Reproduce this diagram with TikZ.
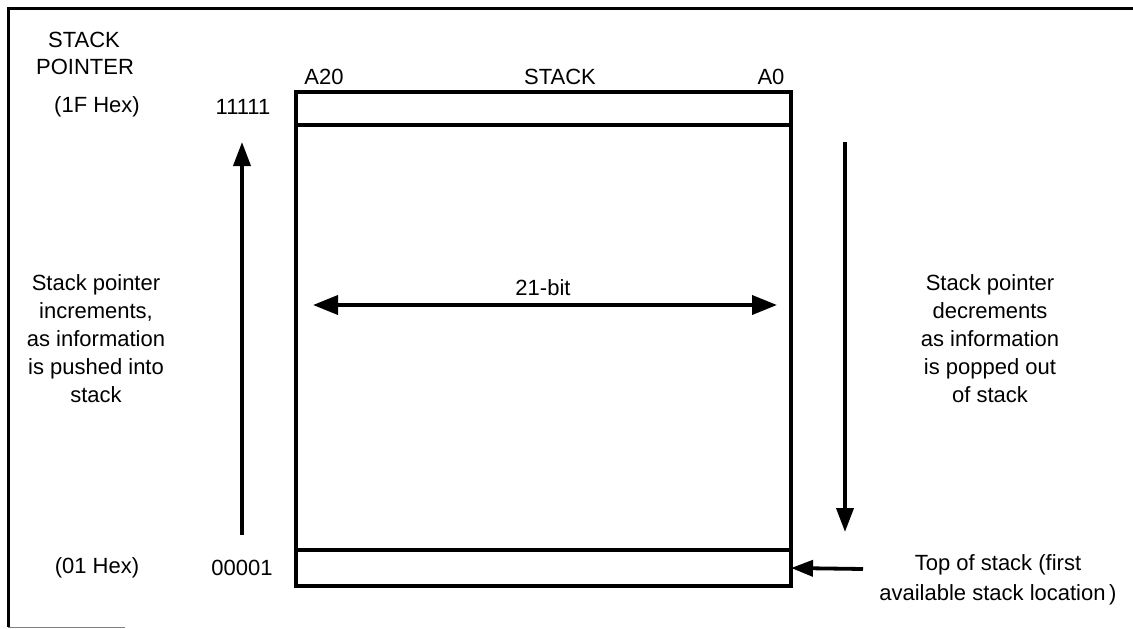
\documentclass[tikz,border=0pt]{standalone}
\usepackage{fontspec}
\setmainfont{Liberation Sans}
\usetikzlibrary{arrows.meta}
\begin{document}
\begin{tikzpicture}[x=1pt,y=-1pt,
  lbl/.style={font=\fontsize{22}{28}\selectfont, inner sep=0pt, align=center},
  cell/.style={draw, line width=3.8pt, inner sep=0pt, outer sep=0pt, minimum width=495pt},
  bigarrow/.style={line width=3.8pt, -{Triangle[length=24pt,width=17pt]}},
  frame/.style={line width=3pt}]
\useasboundingbox (0,0) rectangle (1133,629);
% frame
\draw[frame] (8,627) -- (8,8) -- (1133,8);
\draw[line width=1pt, gray] (8,627) -- (125,627);
% stack cells
\node[cell, minimum height=33pt] (topcell) at (543.5,108.5) {};
\node[cell, minimum height=425pt] (body) at (543.5,337.5) {};
\node[cell, minimum height=36pt] (botcell) at (543.5,568) {};
% headings
\node[lbl] (sp1) at (84,40) {STACK};
\node[lbl] (sp2) at (85,67) {POINTER};
\node[lbl] (a20) at (324,77) {A20};
\node[lbl] (stk) at (560,77) {STACK};
\node[lbl] (a0) at (771,77) {A0};
\node[lbl] (hex1f) at (97,107) {(1F Hex)};
\node[lbl] (v1) at (243,107) {11111};
\node[lbl] (hex01) at (97,568) {(01 Hex)};
\node[lbl] (v0) at (242,568) {00001};
% side texts
\node[lbl] (inc) at (96,339) {Stack pointer\\increments,\\as information\\is pushed into\\stack};
\node[lbl] (dec) at (990,339) {Stack pointer\\decrements\\as information\\is popped out\\of stack};
\node[lbl, font=\fontsize{22}{30}\selectfont] (tos) at (998,580) {Top of stack (first\\available stack location\,)};
% arrows
\coordinate (upS) at (242,535);
\coordinate (upE) at (242,142);
\draw[bigarrow] (upS) -- (upE);
\coordinate (dnS) at (845,142);
\coordinate (dnE) at (845,532);
\draw[bigarrow] (dnS) -- (dnE);
\node[lbl] (bits) at (543,288) {21-bit};
\coordinate (bl) at (313,305);
\coordinate (br) at (777,305);
\draw[line width=3.8pt, {Triangle[length=25pt,width=19pt]}-{Triangle[length=25pt,width=19pt]}] (bl) -- (br);
\coordinate (tosS) at (863,569);
\draw[line width=3.8pt, -{Triangle[length=22pt,width=16pt]}] (tosS) -- (botcell.east);
\end{tikzpicture}
\end{document}
